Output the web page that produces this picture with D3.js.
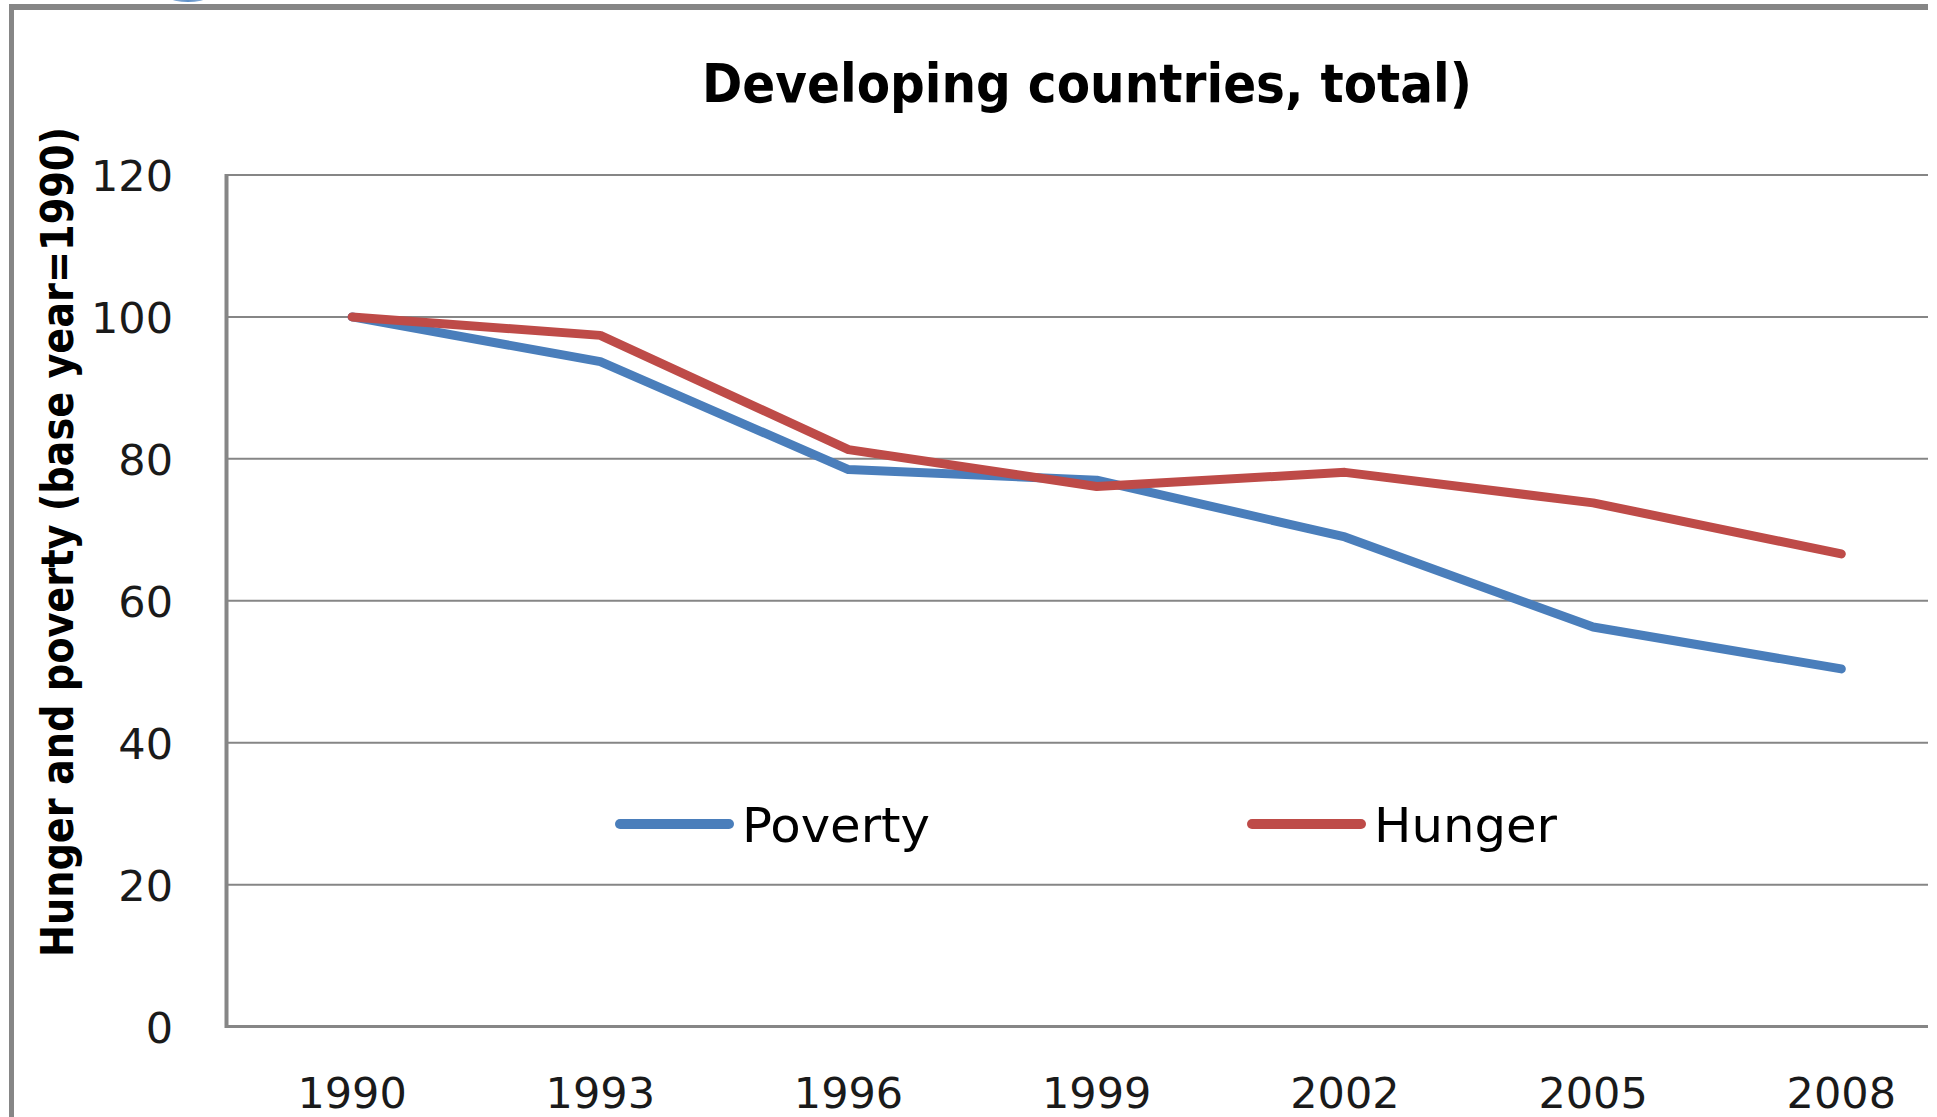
<!DOCTYPE html>
<html>
<head>
<meta charset="utf-8">
<script src="https://cdn.jsdelivr.net/npm/d3@7"></script>
<style>
  html, body { margin: 0; padding: 0; background: #ffffff; }
  svg { display: block; }
</style>
</head>
<body>
<script>
// Index of hunger and poverty in developing countries (1990 = 100)
const years = ["1990", "1993", "1996", "1999", "2002", "2005", "2008"];
const poverty = [100, 93.7, 78.5, 77.0, 69.0, 56.3, 50.4];
const hunger = [100, 97.4, 81.3, 76.1, 78.1, 73.8, 66.6];
const yTicks = [0, 20, 40, 60, 80, 100, 120];
const seriesNames = ["Poverty", "Hunger"];
const seriesColors = ["#4a7ebb", "#be4b48"];

const W = 1937, H = 1117;
const grid = "#868686";

const svg = d3.select("body").append("svg")
  .attr("width", W).attr("height", H);

// Outer chart frame (left and top edges visible)
svg.append("line").attr("x1", 11.5).attr("x2", 11.5).attr("y1", 4).attr("y2", H)
  .attr("stroke", grid).attr("stroke-width", 5);
svg.append("line").attr("x1", 9).attr("x2", 1928).attr("y1", 7).attr("y2", 7)
  .attr("stroke", grid).attr("stroke-width", 6);

// Small emblem peeking in at the top edge
const defs = svg.append("defs");
const grad = defs.append("linearGradient").attr("id", "emb").attr("x1", 0).attr("x2", 1);
grad.append("stop").attr("offset", "0%").attr("stop-color", "#c9dbee");
grad.append("stop").attr("offset", "50%").attr("stop-color", "#5d8fc7");
grad.append("stop").attr("offset", "100%").attr("stop-color", "#c9dbee");
svg.append("ellipse").attr("cx", 188).attr("cy", -16).attr("rx", 34).attr("ry", 18)
  .attr("fill", "url(#emb)");

// Scales
const left = 228, bandW = 248.2;
const x = d3.scaleBand().domain(years).range([left, left + bandW * years.length]);
const xc = d => x(d) + x.bandwidth() / 2;
const y = d3.scaleLinear().domain([0, 120]).range([1026.6, 175]);
const rightEdge = 1928;

// Horizontal gridlines
svg.append("g").selectAll("line").data(yTicks.filter(t => t > 0)).join("line")
  .attr("x1", left).attr("x2", rightEdge)
  .attr("y1", d => y(d)).attr("y2", d => y(d))
  .attr("stroke", grid).attr("stroke-width", 2);

// Axis lines
svg.append("line").attr("x1", 226.5).attr("x2", 226.5).attr("y1", y(120) - 1).attr("y2", y(0) + 1.5)
  .attr("stroke", grid).attr("stroke-width", 4);
svg.append("line").attr("x1", 225).attr("x2", rightEdge).attr("y1", y(0)).attr("y2", y(0))
  .attr("stroke", grid).attr("stroke-width", 3);

// Y tick labels
const yAxis = d3.axisLeft(y).tickValues(yTicks).tickSize(0).tickPadding(0);
const gy = svg.append("g").attr("transform", "translate(173,0)").call(yAxis);
gy.select(".domain").remove();
gy.selectAll("text")
  .attr("font-family", "DejaVu Sans").attr("font-size", 43).attr("fill", "#1a1a1a")
  .attr("dy", "0.36em");

// X tick labels
const xAxis = d3.axisBottom(x).tickSize(0).tickPadding(0);
const gx = svg.append("g").attr("transform", "translate(0,1108)").call(xAxis);
gx.select(".domain").remove();
gx.selectAll("text")
  .attr("font-family", "DejaVu Sans").attr("font-size", 43).attr("fill", "#1a1a1a")
  .attr("dy", 0).attr("y", 0);

// Series lines
const line = d3.line().x((d, i) => xc(years[i])).y(d => y(d));
[poverty, hunger].forEach((vals, i) => {
  svg.append("path").datum(vals)
    .attr("d", line)
    .attr("fill", "none")
    .attr("stroke", seriesColors[i])
    .attr("stroke-width", 9)
    .attr("stroke-linejoin", "round")
    .attr("stroke-linecap", "round");
});

// Legend
const legendX = [616, 1248];
const legendTextLen = [188, 183];
seriesNames.forEach((name, i) => {
  svg.append("line")
    .attr("x1", legendX[i] + 4).attr("x2", legendX[i] + 113)
    .attr("y1", 824).attr("y2", 824)
    .attr("stroke", seriesColors[i]).attr("stroke-width", 10)
    .attr("stroke-linecap", "round");
  svg.append("text")
    .attr("x", legendX[i] + 126).attr("y", 842)
    .attr("font-family", "DejaVu Sans").attr("font-size", 48)
    .attr("textLength", legendTextLen[i]).attr("lengthAdjust", "spacingAndGlyphs")
    .text(name);
});

// Title
svg.append("text")
  .attr("x", 1087).attr("y", 102)
  .attr("text-anchor", "middle")
  .attr("font-family", "DejaVu Sans").attr("font-weight", "bold").attr("font-size", 53)
  .attr("textLength", 770).attr("lengthAdjust", "spacingAndGlyphs")
  .text("Developing countries, total)");

// Y axis title
svg.append("text")
  .attr("transform", "translate(73,542) rotate(-90)")
  .attr("text-anchor", "middle")
  .attr("font-family", "DejaVu Sans").attr("font-weight", "bold").attr("font-size", 45)
  .attr("textLength", 830).attr("lengthAdjust", "spacingAndGlyphs")
  .text("Hunger and poverty (base year=1990)");
</script>
</body>
</html>
